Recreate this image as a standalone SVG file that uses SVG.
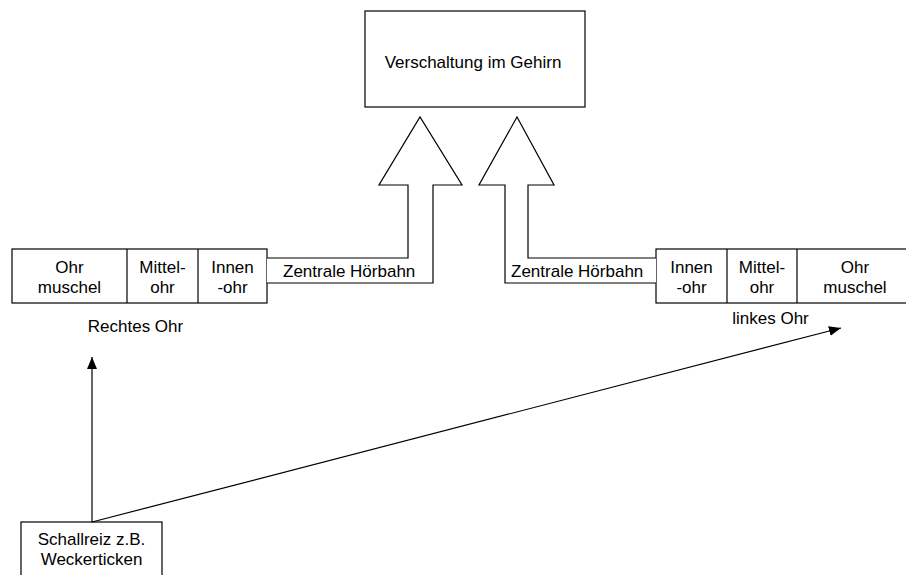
<svg xmlns="http://www.w3.org/2000/svg" width="906" height="575" viewBox="0 0 906 575">
  <defs>
    <marker id="arrow" viewBox="0 0 12 10" refX="12" refY="5" markerWidth="12" markerHeight="10" markerUnits="userSpaceOnUse" orient="auto">
      <path d="M0,0 L12,5 L0,10 Z" fill="#000"/>
    </marker>
  </defs>
  <style>
    .box { fill: #fff; stroke: #000; stroke-width: 1.2; }
    .pipe { fill: #fff; stroke: #000; stroke-width: 1.2; stroke-linejoin: miter; }
    .line { fill: none; stroke: #000; stroke-width: 1.2; }
    text { font-family: "Liberation Sans", Arial, sans-serif; font-size: 17px; fill: #000; }
    .c { text-anchor: middle; }
  </style>
  <rect width="906" height="575" fill="#fff"/>

  <!-- brain -->
  <g id="gehirn">
    <rect class="box" x="365" y="11" width="220" height="96"/>
    <text class="c" x="473" y="68">Verschaltung im Gehirn</text>
  </g>

  <!-- right ear (left side) -->
  <g id="rechtes-ohr">
    <rect class="box" x="12" y="249" width="255" height="54"/>
    <line class="line" x1="127" y1="249" x2="127" y2="303"/>
    <line class="line" x1="198" y1="249" x2="198" y2="303"/>
    <text class="c" x="69.5" y="273">Ohr</text>
    <text class="c" x="69.5" y="293">muschel</text>
    <text class="c" x="162.5" y="273">Mittel-</text>
    <text class="c" x="162.5" y="293">ohr</text>
    <text class="c" x="232.5" y="273">Innen</text>
    <text class="c" x="232.5" y="293">-ohr</text>
    <text class="c" x="135.5" y="332">Rechtes Ohr</text>
  </g>

  <!-- left ear (right side) -->
  <g id="linkes-ohr">
    <rect class="box" x="656" y="249" width="260" height="54"/>
    <line class="line" x1="727" y1="249" x2="727" y2="303"/>
    <line class="line" x1="797" y1="249" x2="797" y2="303"/>
    <text class="c" x="691.5" y="273">Innen</text>
    <text class="c" x="691.5" y="293">-ohr</text>
    <text class="c" x="762" y="273">Mittel-</text>
    <text class="c" x="762" y="293">ohr</text>
    <text class="c" x="855" y="273">Ohr</text>
    <text class="c" x="855" y="293">muschel</text>
    <text class="c" x="770.5" y="324">linkes Ohr</text>
  </g>

  <!-- sound stimulus -->
  <g id="schallreiz">
    <rect class="box" x="21" y="522" width="141" height="60"/>
    <text class="c" x="91.5" y="545">Schallreiz z.B.</text>
    <text class="c" x="91.5" y="565">Weckerticken</text>
  </g>

  <g id="connectors">
    <!-- central auditory pathway, right ear -->
    <g id="hoerbahn-rechts">
      <path class="pipe" d="M267,258 L408,258 L408,185 L379,185 L420,117 L462,185 L433,185 L433,283 L267,283"/>
      <text x="283" y="277">Zentrale Hörbahn</text>
    </g>
    <!-- central auditory pathway, left ear -->
    <g id="hoerbahn-links">
      <path class="pipe" d="M656,258 L528,258 L528,185 L554,185 L517,117 L479,185 L505,185 L505,283 L656,283"/>
      <text x="511" y="277">Zentrale Hörbahn</text>
    </g>
    <line class="line" x1="92" y1="522" x2="92" y2="357" marker-end="url(#arrow)"/>
    <line class="line" x1="92" y1="522" x2="841" y2="328" marker-end="url(#arrow)"/>
  </g>
</svg>
